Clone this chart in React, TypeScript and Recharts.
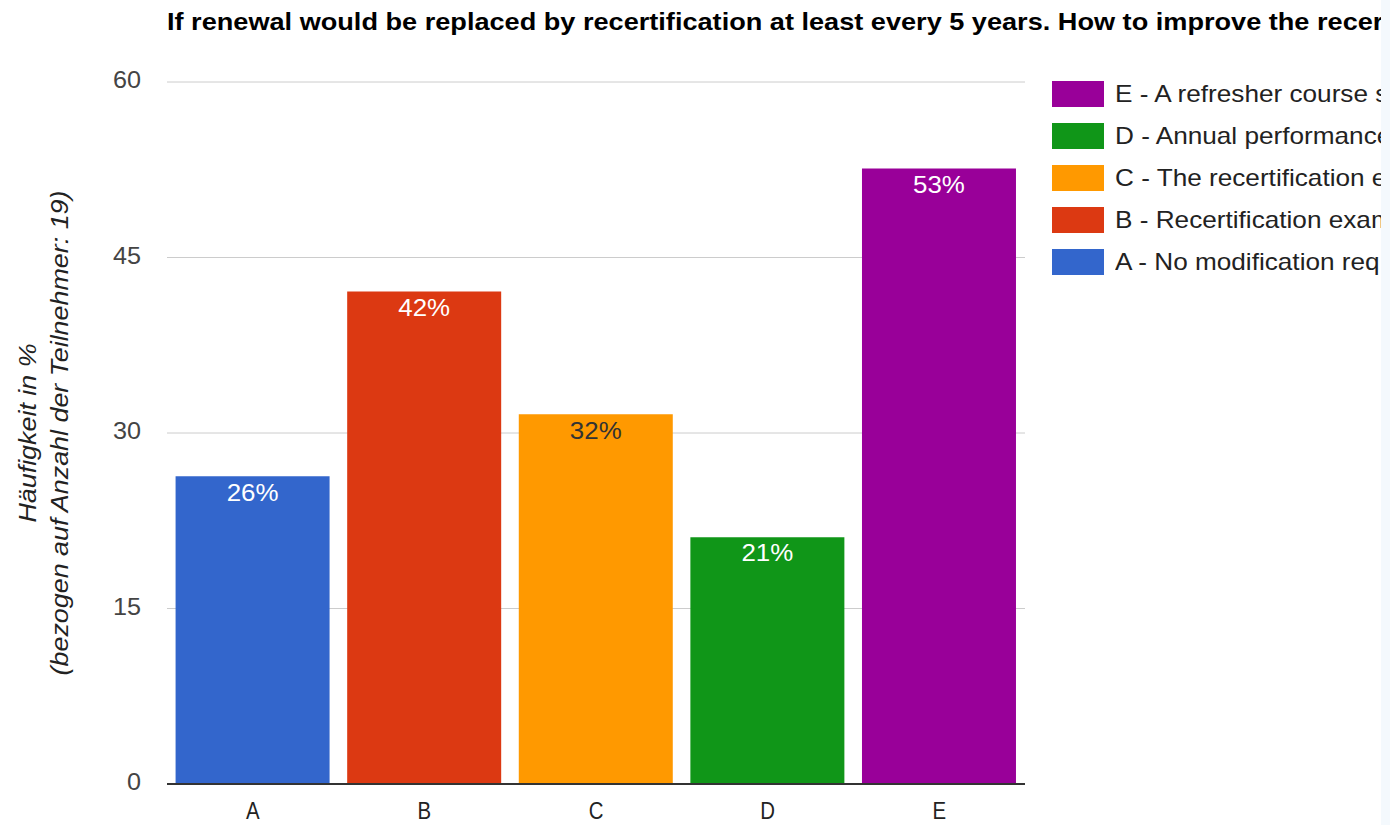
import { BarChart, Bar, XAxis, YAxis, CartesianGrid, LabelList } from 'recharts';

const categories = ['A', 'B', 'C', 'D', 'E'];
const seriesKeys = ['a', 'b', 'c', 'd', 'e'];
const seriesValues = [26.3, 42.1, 31.6, 21.1, 52.6];
const seriesColors = ['#3366cc', '#dc3912', '#ff9900', '#109618', '#990099'];
const labelColors = ['#ffffff', '#ffffff', '#333333', '#ffffff', '#ffffff'];
const legendLabels = [
  'A - No modification req',
  'B - Recertification exam',
  'C - The recertification e',
  'D - Annual performance',
  'E - A refresher course s',
];
const yTicks = [0, 15, 30, 45, 60];
const title = 'If renewal would be replaced by recertification at least every 5 years. How to improve the recer';

// one row per category, only its own series has a value
const data = categories.map((cat, i) => {
  const row: Record<string, string | number> = { cat };
  seriesKeys.forEach((k, j) => {
    row[k] = i === j ? seriesValues[i] : 0;
  });
  return row;
});

const font = '"Liberation Sans", Arial, sans-serif';

function makeLabel(color: string) {
  return (props: any) => {
    const { x, y, width, value } = props;
    if (!value) return null;
    const cx = x + width / 2;
    const cy = y + 18;
    return (
      <text
        transform={`translate(${cx},${cy}) scale(1.08,1)`}
        fill={color}
        fontSize={24}
        fontFamily={font}
        textAnchor="middle"
        dominantBaseline="middle"
      >
        {`${Math.round(value)}%`}
      </text>
    );
  };
}

const YTick = (props: any) => {
  const { x, y, payload } = props;
  return (
    <text
      transform={`translate(${x},${y}) scale(1.05,1)`}
      textAnchor="end"
      dominantBaseline="middle"
      fontSize={24}
      fill="#444444"
      fontFamily={font}
    >
      {payload.value}
    </text>
  );
};

const XTick = (props: any) => {
  const { x, y, payload } = props;
  return (
    <text
      transform={`translate(${x},${y}) scale(0.85,1)`}
      textAnchor="middle"
      dy="0.71em"
      fontSize={24}
      fill="#222222"
      fontFamily={font}
    >
      {payload.value}
    </text>
  );
};

const axisTitleStyle = {
  fontSize: 24,
  fontStyle: 'italic',
  fill: '#222222',
  fontFamily: font,
};

export default function App() {
  return (
    <div
      style={{
        position: 'absolute',
        left: 0,
        top: 0,
        width: 1390,
        height: 825,
        overflow: 'hidden',
        background: '#ffffff',
        fontFamily: font,
      }}
    >
      <div
        style={{
          position: 'absolute',
          left: 167,
          top: 8,
          fontSize: 24,
          fontWeight: 'bold',
          color: '#000',
          whiteSpace: 'nowrap',
          transform: 'scaleX(1.13)',
          transformOrigin: 'left center',
        }}
      >
        {title}
      </div>

      <BarChart
        width={1390}
        height={825}
        data={data}
        margin={{ top: 82, right: 365, left: 0, bottom: 0 }}
        barCategoryGap="5%"
      >
        <CartesianGrid horizontal vertical={false} stroke="#cccccc" />
        <XAxis
          dataKey="cat"
          tickLine={false}
          axisLine={{ stroke: '#333333', strokeWidth: 2 }}
          tick={<XTick />}
          tickMargin={12}
          height={41}
        />
        <YAxis
          domain={[0, 60]}
          ticks={yTicks}
          width={167}
          tickLine={false}
          axisLine={false}
          tickMargin={20}
          tick={<YTick />}
        />
        {seriesKeys.map((k, i) => (
          <Bar key={k} dataKey={k} stackId="s" fill={seriesColors[i]} isAnimationActive={false}>
            <LabelList dataKey={k} content={makeLabel(labelColors[i])} />
          </Bar>
        ))}
        <text
          transform="translate(30,433) rotate(-90) scale(1.12,1)"
          textAnchor="middle"
          dominantBaseline="middle"
          {...axisTitleStyle}
        >
          Häufigkeit in %
        </text>
        <text
          transform="translate(62,433) rotate(-90) scale(1.12,1)"
          textAnchor="middle"
          dominantBaseline="middle"
          {...axisTitleStyle}
        >
          (bezogen auf Anzahl der Teilnehmer: 19)
        </text>
      </BarChart>

      <div style={{ position: 'absolute', left: 1052, top: 81 }}>
        {legendLabels
          .map((label, i) => ({ label, color: seriesColors[i] }))
          .reverse()
          .map((item) => (
            <div
              key={item.label}
              style={{ display: 'flex', alignItems: 'center', height: 42, whiteSpace: 'nowrap' }}
            >
              <div style={{ width: 52, height: 26, background: item.color, marginRight: 11, marginTop: -16, flexShrink: 0 }} />
              <span
                style={{
                  display: 'inline-block',
                  fontSize: 24,
                  color: '#222222',
                  marginTop: -16,
                  transform: 'scaleX(1.09)',
                  transformOrigin: 'left center',
                }}
              >
                {item.label}
              </span>
            </div>
          ))}
      </div>

      <div
        style={{
          position: 'absolute',
          left: 1381,
          top: 0,
          width: 9,
          height: 825,
          background: '#f4f9fd',
        }}
      />
    </div>
  );
}
